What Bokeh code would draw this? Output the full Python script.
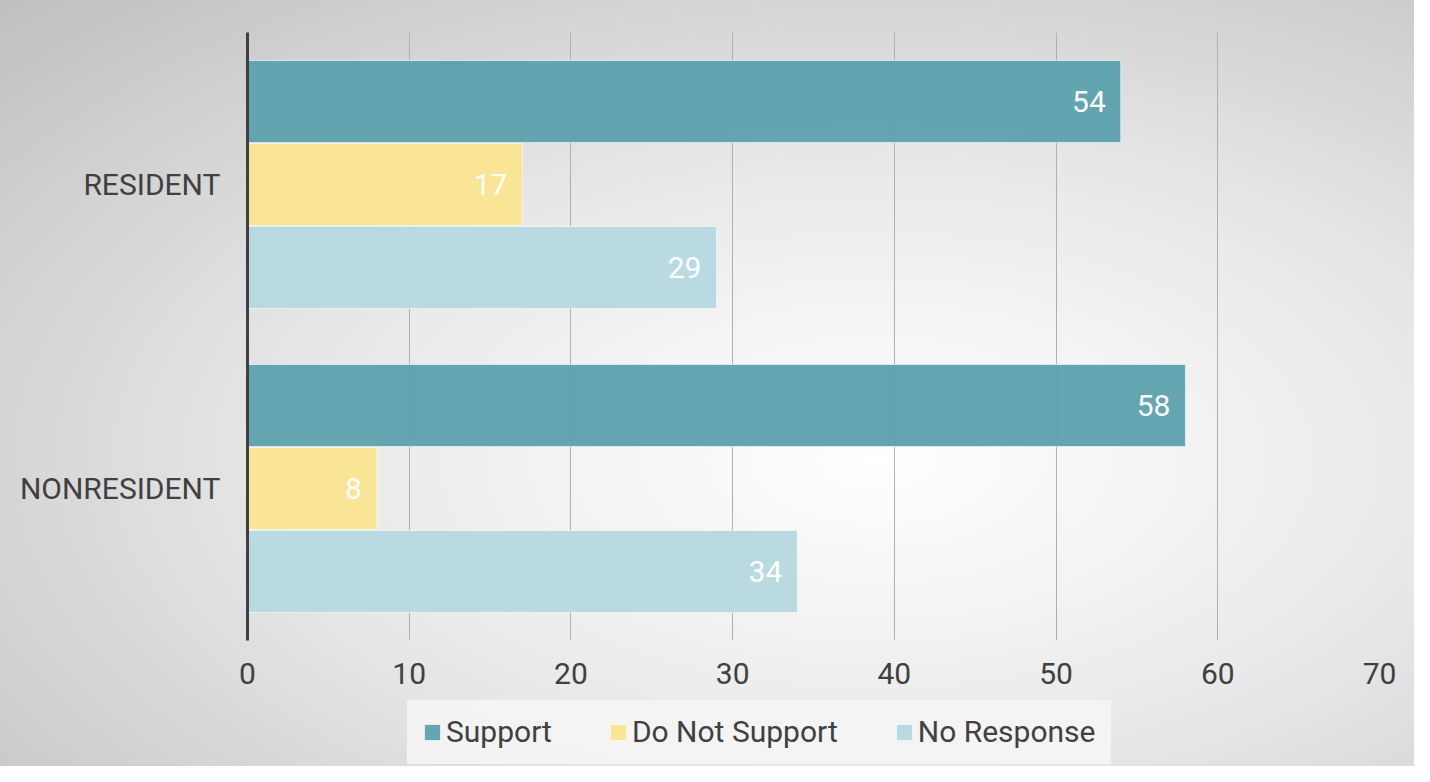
from bokeh.plotting import figure
from bokeh.models import ColumnDataSource, FactorRange, Range1d, Legend, LegendItem, FixedTicker
from bokeh.layouts import column
from bokeh.transform import dodge
from bokeh.core.properties import value
from bokeh.embed import file_html
from bokeh.resources import INLINE

categories = ["RESIDENT", "NONRESIDENT"]
series_names = ["Support", "Do Not Support", "No Response"]
support = [54, 58]
do_not_support = [17, 8]
no_response = [29, 34]
x_ticks = [0, 10, 20, 30, 40, 50, 60, 70]

colors = ["#5ea3ae", "#f9e492", "#b6d9df"]
offsets = [0.273, 0.0, -0.273]
FONT = "Roboto"
FS = "30px"
TXT = "#404040"

src = ColumnDataSource(dict(cat=categories, s=support, d=do_not_support, n=no_response,
                            sl=[str(v) for v in support], dl=[str(v) for v in do_not_support],
                            nl=[str(v) for v in no_response]))

p = figure(width=1414, height=700, output_backend="svg", toolbar_location=None,
           y_range=FactorRange(factors=categories[::-1], range_padding=0),
           x_range=Range1d(0, 70),
           min_border_left=247, min_border_right=35, min_border_top=32, min_border_bottom=60)

p.background_fill_alpha = 0
p.border_fill_alpha = 0
p.outline_line_color = None

for col, lab, c, off in zip(["s", "d", "n"], ["sl", "dl", "nl"], colors, offsets):
    p.hbar(y=dodge("cat", off, range=p.y_range), right=col, left=0, height=0.27,
           source=src, fill_color=c, fill_alpha=0.97, line_color="#ffffff", line_alpha=0.6, line_width=1)
    p.text(x=col, y=dodge("cat", off, range=p.y_range), text=lab, source=src,
           text_align="right", text_baseline="middle", x_offset=-15,
           text_color="white", text_font=value(FONT), text_font_size=FS)

p.xgrid.ticker = FixedTicker(ticks=x_ticks)
p.xgrid.grid_line_color = "#b0b0b0"
p.xgrid.grid_line_width = 1
p.ygrid.grid_line_color = None

xa = p.xaxis[0]
xa.ticker = FixedTicker(ticks=x_ticks)
xa.axis_line_color = None
xa.major_tick_line_color = None
xa.minor_tick_line_color = None
xa.major_tick_out = 0
xa.major_label_standoff = 22
xa.major_label_text_font = FONT
xa.major_label_text_font_size = FS
xa.major_label_text_color = TXT

ya = p.yaxis[0]
ya.axis_line_color = "#404040"
ya.axis_line_width = 3
ya.major_tick_line_color = None
ya.minor_tick_line_color = None
ya.major_tick_out = 0
ya.major_label_standoff = 27
ya.major_label_text_font = FONT
ya.major_label_text_font_size = FS
ya.major_label_text_color = TXT

# legend strip (its renderers sit outside the visible range; they only feed the legend)
lg = figure(width=1414, height=66, output_backend="svg", toolbar_location=None,
            x_range=Range1d(0, 1), y_range=Range1d(0, 1),
            min_border_left=0, min_border_right=0, min_border_top=0, min_border_bottom=0)
lg.axis.visible = False
lg.grid.visible = False
lg.background_fill_alpha = 0
lg.border_fill_alpha = 0
lg.outline_line_color = None

leg_renderers = []
for c in colors:
    leg_renderers.append(lg.hbar(y=[-5], right=[-5], left=-6, height=0.5, fill_color=c, fill_alpha=0.97,
                                 line_color="#ffffff", line_alpha=0.6, line_width=1))

legend = Legend(items=[LegendItem(label=n, renderers=[r]) for n, r in zip(series_names, leg_renderers)],
                orientation="horizontal", location=(160, 2),
                glyph_width=20, glyph_height=20, label_standoff=4, spacing=56,
                label_text_font=FONT, label_text_font_size=FS, label_text_color=TXT,
                background_fill_color="#f6f6f6", background_fill_alpha=0.85,
                border_line_color="#f3f3f3", border_line_alpha=0.85, border_line_width=1,
                padding=14, margin=0)
lg.add_layout(legend, "center")

layout = column(p, lg, spacing=0, styles={
    "background-image": "radial-gradient(ellipse farthest-corner at 62% 60%, #ffffff 0%, #e9e9e9 45%, #bfbfbf 100%)",
})

open("out.html", "w").write(file_html(layout, INLINE))
